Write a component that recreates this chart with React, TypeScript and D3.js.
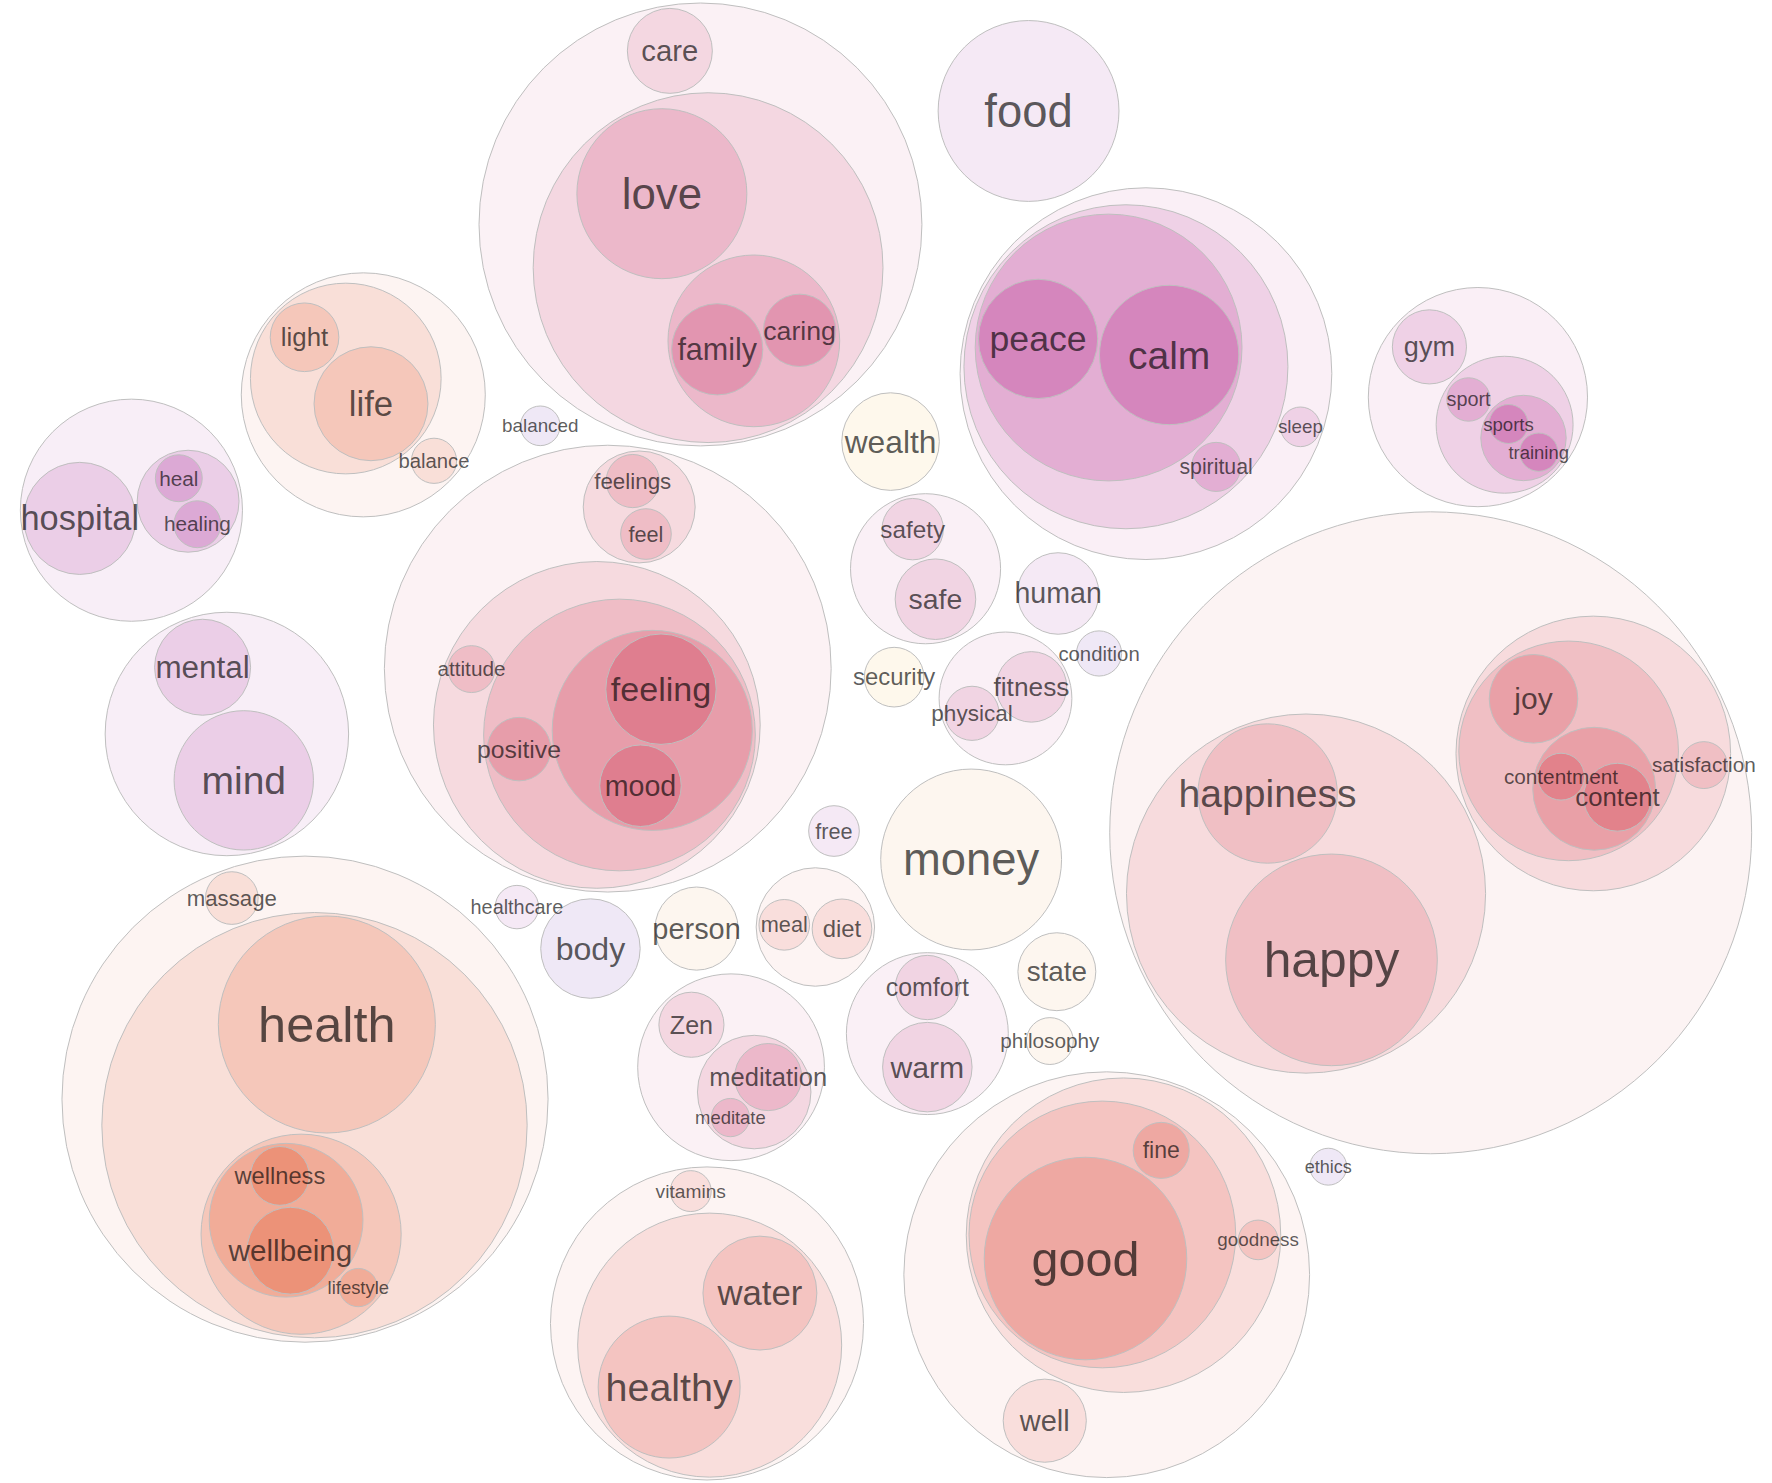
import React, { useMemo } from 'react'
import * as d3 from 'd3'

const W = 1772
const H = 1483

// a leaf is [word, count]; a group is a list of leaves / groups
const calmGroup = [[[['peace', 272], ['calm', 371]], ['spiritual', 46]], ['sleep', 30]]
const gymGroup = [['gym', 105], [['sport', 36], [['sports', 29], ['training', 28]]]]
const loveGroup = [['care', 138], [['love', 552], [['family', 159], ['caring', 100]]]]
const lifeGroup = [[['light', 90], ['life', 248]], ['balance', 39]]
const hospitalGroup = [['hospital', 240], [['heal', 42], ['healing', 42]]]
const mindGroup = [['mental', 176], ['mind', 371]]
const feelingGroup = [[['feelings', 54], ['feel', 49]], [['attitude', 42], [['positive', 77], [['feeling', 233], ['mood', 127]]]]]
const safetyGroup = [['safety', 72], ['safe', 124]]
const fitnessGroup = [['fitness', 95], ['physical', 56]]
const happyGroup = [[['happiness', 371], ['happy', 856]], [[['joy', 150], [['contentment', 42], ['content', 88]]], ['satisfaction', 42]]]
const comfortGroup = [['comfort', 79], ['warm', 153]]
const zenGroup = [['Zen', 81], [['meditation', 86], ['meditate', 28]]]
const mealGroup = [['meal', 49], ['diet', 68]]
const healthGroup = [['massage', 53], [['health', 900], [[['wellness', 66], ['wellbeing', 144]], ['lifestyle', 28]]]]
const waterGroup = [['vitamins', 32], [['water', 248], ['healthy', 385]]]
const goodGroup = [[[['good', 784], ['fine', 60]], ['goodness', 30]], ['well', 132]]

// direction (deg) from first to second child, for every pair, in pre-order
const calmTilt = [19, 48, 7]
const gymTilt = [46, 35, 43]
const loveTilt = [80, 58, -13]
const lifeTilt = [43, 45]
const hospitalTilt = [-9, 68]
const mindTilt = [70]
const feelingTilt = [101, 76, 24, -8, 102]
const safetyTilt = [72]
const fitnessTilt = [156]
const happyTilt = [-26, 69, 6, 56, 20]
const comfortTilt = [90]
const zenTilt = [47, 133]
const mealTilt = [4]
const healthTilt = [70, 97, 43, 82]
const waterTilt = [83, 134]
const goodTilt = [113, 2, -55]

// top level clusters in seeding order: [tree, colour family, tilts]
const clusters: [any, string, number[]][] = [
  [['money', 625], 'peach', []],
  [['person', 132], 'peach', []],
  [['human', 127], 'lavPink', []],
  [['state', 116], 'peach', []],
  [feelingGroup, 'rose', feelingTilt],
  [fitnessGroup, 'mauve', fitnessTilt],
  [['free', 49], 'lavPink', []],
  [safetyGroup, 'mauve', safetyTilt],
  [comfortGroup, 'mauve', comfortTilt],
  [['body', 189], 'lavBlue', []],
  [['security', 68], 'gold', []],
  [mealGroup, 'salmon', mealTilt],
  [['balanced', 30], 'lavBlue', []],
  [['condition', 39], 'lavBlue', []],
  [['healthcare', 36], 'lavPink', []],
  [['wealth', 182], 'gold', []],
  [['philosophy', 42], 'peach', []],
  [mindGroup, 'violet', mindTilt],
  [calmGroup, 'purple', calmTilt],
  [zenGroup, 'love', zenTilt],
  [lifeGroup, 'orange', lifeTilt],
  [happyGroup, 'red', happyTilt],
  [healthGroup, 'orange', healthTilt],
  [['food', 625], 'lavPink', []],
  [goodGroup, 'salmon', goodTilt],
  [hospitalGroup, 'violet', hospitalTilt],
  [gymGroup, 'purple', gymTilt],
  [waterGroup, 'salmon', waterTilt],
  [loveGroup, 'love', loveTilt],
  [['ethics', 26], 'lavBlue', []],
]

const families = ['purple', 'violet', 'love', 'mauve', 'rose', 'red', 'orange', 'salmon', 'peach', 'gold', 'lavPink', 'lavBlue']
const familyColors = ['#c860a8', '#bb56ad', '#d97497', '#cf6aa0', '#df7e8f', '#e2828b', '#ec9278', '#e98c85', '#eba55f', '#f5b941', '#9b239b', '#5f19a5']
const depthLevels = [0.1, 0.29, 0.51, 0.76, 1.0]

const base = d3.scaleOrdinal<string, string>().domain(families).range(familyColors)
const fillFor = (family: string, depth: number) =>
  d3.interpolateRgb('#ffffff', base(family))(depthLevels[Math.min(depth, depthLevels.length - 1)])

function toNode(t: any): any {
  if (typeof t[0] === 'string') return { name: t[0], value: t[1] }
  return { children: t.map(toNode) }
}

// turn every pair of siblings so that it points the way the tilt says
function orient(root: any, tilts: number[]) {
  let k = 0
  root.eachBefore((node: any) => {
    if (!node.children || node.children.length < 2) return
    const [a, b] = node.children
    const cur = Math.atan2(b.y - a.y, b.x - a.x)
    const da = ((tilts[k++] || 0) * Math.PI) / 180 - cur
    const cos = Math.cos(da)
    const sin = Math.sin(da)
    node.descendants().slice(1).forEach((d: any) => {
      const dx = d.x - node.x
      const dy = d.y - node.y
      d.x = node.x + dx * cos - dy * sin
      d.y = node.y + dx * sin + dy * cos
    })
  })
}

function layout() {
  const pack = d3.pack<any>().radius(d => 4 * Math.sqrt(d.value)).padding(3)
  const packed = clusters.map(([tree, family, tilts]) => {
    const root = d3.hierarchy(toNode(tree)).sum(d => d.value || 0)
    pack(root)
    orient(root, tilts)
    return { root: root as d3.HierarchyCircularNode<any>, family }
  })

  const golden = Math.PI * (3 - Math.sqrt(5))
  const nodes: any[] = packed.map((p, i) => ({
    r: p.root.r,
    x: 100 * Math.sqrt(i + 0.5) * Math.cos(i * golden),
    y: 100 * Math.sqrt(i + 0.5) * Math.sin(i * golden),
  }))
  const sim = d3.forceSimulation(nodes)
    .force('x', d3.forceX(0).strength(0.042))
    .force('y', d3.forceY(0).strength(0.056))
    .force('collide', d3.forceCollide((d: any) => d.r + 4).strength(1).iterations(4))
    .stop()
  for (let i = 0; i < 700; i++) sim.tick()
  // spread the clusters sideways a little (distances only grow, so nothing overlaps)
  nodes.forEach(d => { d.x *= 1.1 })

  const x0 = d3.min(nodes, d => d.x - d.r)
  const x1 = d3.max(nodes, d => d.x + d.r)
  const y0 = d3.min(nodes, d => d.y - d.r)
  const y1 = d3.max(nodes, d => d.y + d.r)
  const m = 3
  const s = Math.min((W - 2 * m) / (x1 - x0), (H - 2 * m) / (y1 - y0))
  const ox = (W - s * (x1 - x0)) / 2 - s * x0
  const oy = (H - s * (y1 - y0)) / 2 - s * y0

  const circles: any[] = []
  const labels: any[] = []
  packed.forEach((p, i) => {
    const n = nodes[i]
    const rx = p.root.x
    const ry = p.root.y
    p.root.eachBefore(d => {
      const cx = ox + s * (n.x + d.x - rx)
      const cy = oy + s * (n.y + d.y - ry)
      circles.push({ cx, cy, r: s * d.r, fill: fillFor(p.family, d.depth) })
      if (!d.children) {
        labels.push({ cx, cy, text: d.data.name, size: s * 23 * Math.pow(d.r / 26, 0.58) })
      }
    })
  })
  return { circles, labels }
}

export default function App() {
  const { circles, labels } = useMemo(() => layout(), [])
  return (
    <svg
      width={W}
      height={H}
      style={{ position: 'absolute', left: 0, top: 0, background: '#fff' }}
      fontFamily='"Liberation Sans", Arial, Helvetica, sans-serif'
    >
      <g stroke="#bfbfbf" strokeWidth={1}>
        {circles.map((c, i) => (
          <circle key={i} cx={c.cx} cy={c.cy} r={c.r} fill={c.fill} />
        ))}
      </g>
      <g textAnchor="middle" fill="#000" fillOpacity={0.65}>
        {labels.map((l, i) => (
          <text key={i} x={l.cx} y={l.cy} dy="0.35em" fontSize={l.size}>
            {l.text}
          </text>
        ))}
      </g>
    </svg>
  )
}
